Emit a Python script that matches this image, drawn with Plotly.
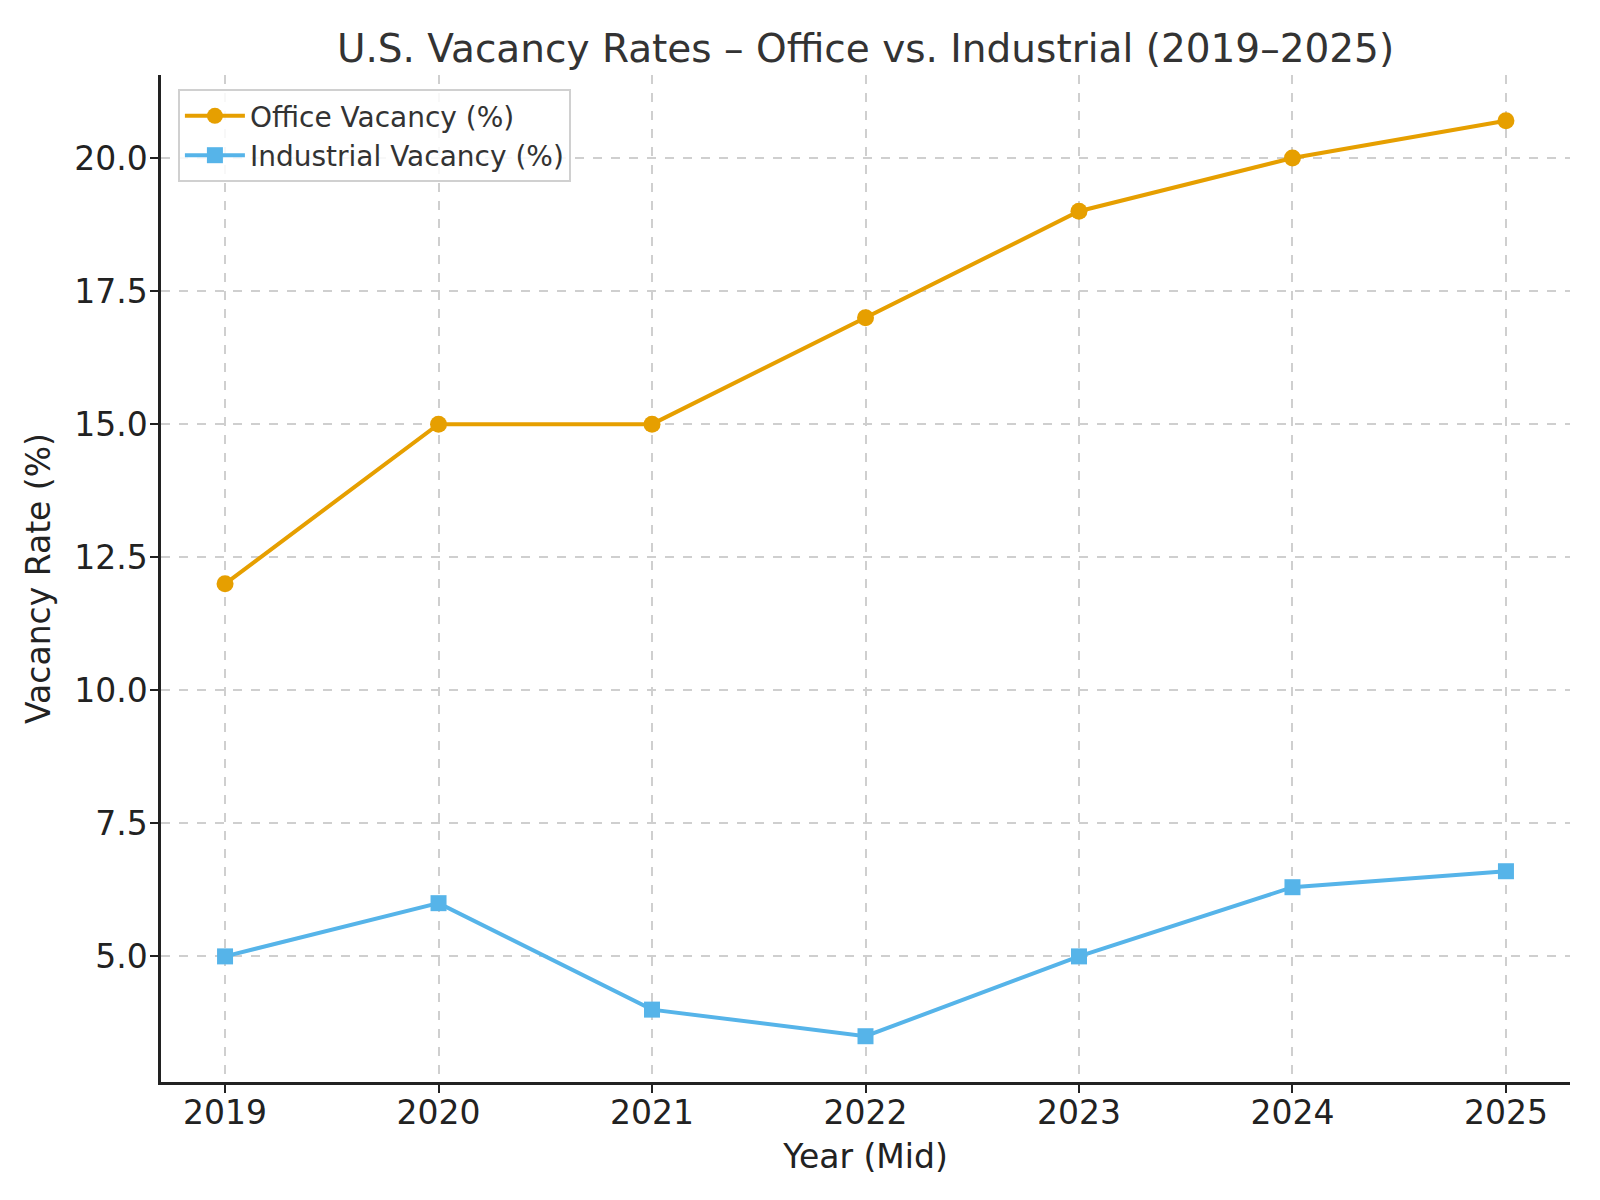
import plotly.graph_objects as go

years = [2019, 2020, 2021, 2022, 2023, 2024, 2025]
office_vacancy = [12.0, 15.0, 15.0, 17.0, 19.0, 20.0, 20.7]
industrial_vacancy = [5.0, 6.0, 4.0, 3.5, 5.0, 6.3, 6.6]
year_labels = [str(y) for y in years]

FONT = "DejaVu Sans"

fig = go.Figure()
fig.add_trace(go.Scatter(
    x=years, y=office_vacancy, mode="lines+markers",
    name="Office Vacancy (%)",
    line=dict(color="#E69F00", width=4),
    marker=dict(symbol="circle", size=17, color="#E69F00"),
))
fig.add_trace(go.Scatter(
    x=years, y=industrial_vacancy, mode="lines+markers",
    name="Industrial Vacancy (%)",
    line=dict(color="#56B4E9", width=4),
    marker=dict(symbol="square", size=16, color="#56B4E9"),
))

fig.update_layout(
    width=1600, height=1200,
    paper_bgcolor="white", plot_bgcolor="white",
    margin=dict(l=153, r=38, t=67, b=126),
    font=dict(family=FONT, color="#222222"),
    title=dict(
        text="U.S. Vacancy Rates \u2013 Office vs. Industrial (2019\u20132025)",
        font=dict(family=FONT, size=39, color="#333333"),
        x=(153 + 1562) / 2 / 1600, xanchor="center",
        y=1 - 40 / 1200, yanchor="middle",
    ),
    showlegend=True,
    legend=dict(
        x=0.012, y=0.986, xanchor="left", yanchor="top",
        bgcolor="rgba(255,255,255,0.85)",
        bordercolor="#d0d0d0", borderwidth=2,
        font=dict(family=FONT, size=28, color="#333333"),
        itemwidth=60, tracegroupgap=6,
    ),
)

fig.update_xaxes(
    range=[2018.7, 2025.3],
    tickmode="array", tickvals=years, ticktext=year_labels,
    showline=True, linecolor="#222222", linewidth=2.5, mirror=False,
    ticks="outside", ticklen=8, tickwidth=2, tickcolor="#222222",
    tickfont=dict(family=FONT, size=33, color="#222222"),
    ticklabelstandoff=-8,
    showgrid=True, gridcolor="#cfcfcf", gridwidth=1.5, griddash="dash",
    zeroline=False,
    title=dict(text="Year (Mid)", font=dict(family=FONT, size=33, color="#222222"), standoff=14),
)
fig.update_yaxes(
    range=[2.64, 21.56],
    tick0=0, dtick=2.5, tickformat=".1f",
    showline=True, linecolor="#222222", linewidth=2.5, mirror=False,
    ticks="outside", ticklen=8, tickwidth=2, tickcolor="#222222",
    tickfont=dict(family=FONT, size=33, color="#222222"),
    ticklabelstandoff=-4,
    showgrid=True, gridcolor="#cfcfcf", gridwidth=1.5, griddash="dash",
    zeroline=False,
    title=dict(text="Vacancy Rate (%)", font=dict(family=FONT, size=33, color="#222222"), standoff=14),
)

fig.write_html("out.html")
